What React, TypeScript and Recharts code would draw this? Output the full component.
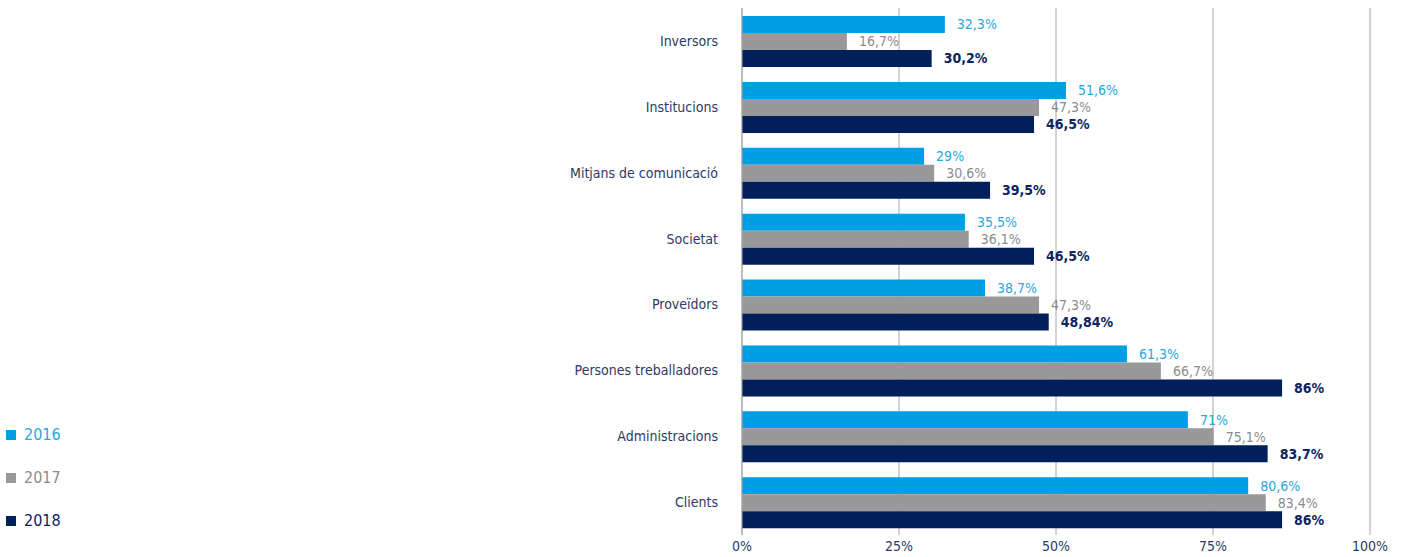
import React from "react"
import {
  BarChart, Bar, XAxis, YAxis, CartesianGrid, LabelList,
} from "recharts"

const categories = [
  "Inversors",
  "Institucions",
  "Mitjans de comunicació",
  "Societat",
  "Proveïdors",
  "Persones treballadores",
  "Administracions",
  "Clients",
]
const values2016 = [32.3, 51.6, 29, 35.5, 38.7, 61.3, 71, 80.6]
const values2017 = [16.7, 47.3, 30.6, 36.1, 47.3, 66.7, 75.1, 83.4]
const values2018 = [30.2, 46.5, 39.5, 46.5, 48.84, 86, 83.7, 86]
const xTicks = [0, 25, 50, 75, 100]

const FONT = "'Liberation Sans Narrow', 'DejaVu Sans Condensed', 'Roboto Condensed', sans-serif"
const NAVY = "#2b3a67"

const series = [
  { key: "y2016", name: "2016", fill: "#009fe3", label: "#29a8e0", bold: false },
  { key: "y2017", name: "2017", fill: "#999999", label: "#8c8c8c", bold: false },
  { key: "y2018", name: "2018", fill: "#001f5b", label: "#0d2461", bold: true },
]

const data = categories.map((c, i) => ({
  name: c,
  y2016: values2016[i],
  y2017: values2017[i],
  y2018: values2018[i],
}))

const fmt = (v: number) => `${String(v).replace(".", ",")}%`

export default function App() {
  return (
    <div style={{ position: "absolute", left: 0, top: 0, width: 1401, height: 557, background: "#fff" }}>
      <BarChart
        width={1401}
        height={557}
        data={data}
        layout="vertical"
        margin={{ top: 8, right: 31, left: 0, bottom: 0 }}
        barCategoryGap={8}
        barGap={0}
      >
        <CartesianGrid horizontal={false} stroke="#a6a6a6" />
        <XAxis
          type="number"
          domain={[0, 100]}
          ticks={xTicks}
          tickFormatter={v => `${v}%`}
          axisLine={false}
          tickLine={false}
          tickSize={0}
          tickMargin={6}
          height={22}
          tick={{ fill: NAVY, fontSize: 14, fontFamily: FONT }}
        />
        <YAxis
          type="category"
          dataKey="name"
          width={742}
          axisLine={{ stroke: "#a6a6a6" }}
          tickLine={false}
          tickSize={0}
          tickMargin={24}
          tick={{ fill: NAVY, fontSize: 14, fontFamily: FONT }}
        />
        {series.map(s => (
          <Bar key={s.key} dataKey={s.key} name={s.name} fill={s.fill} isAnimationActive={false}>
            <LabelList
              dataKey={s.key}
              position="right"
              offset={12}
              formatter={(v: any) => fmt(v)}
              style={{
                fill: s.label,
                fontSize: 14,
                fontFamily: FONT,
                fontWeight: s.bold ? 700 : 400,
              }}
            />
          </Bar>
        ))}
      </BarChart>
      {/* legend, bottom left */}
      <div style={{ position: "absolute", left: 6, top: 413, fontFamily: FONT, fontSize: 16 }}>
        {series.map(s => (
          <div key={s.key} style={{ display: "flex", alignItems: "center", height: 43 }}>
            <span style={{ width: 10, height: 10, background: s.fill, display: "inline-block", marginRight: 8 }} />
            <span style={{ color: s.bold ? "#0d2461" : s.label }}>{s.name}</span>
          </div>
        ))}
      </div>
    </div>
  )
}
